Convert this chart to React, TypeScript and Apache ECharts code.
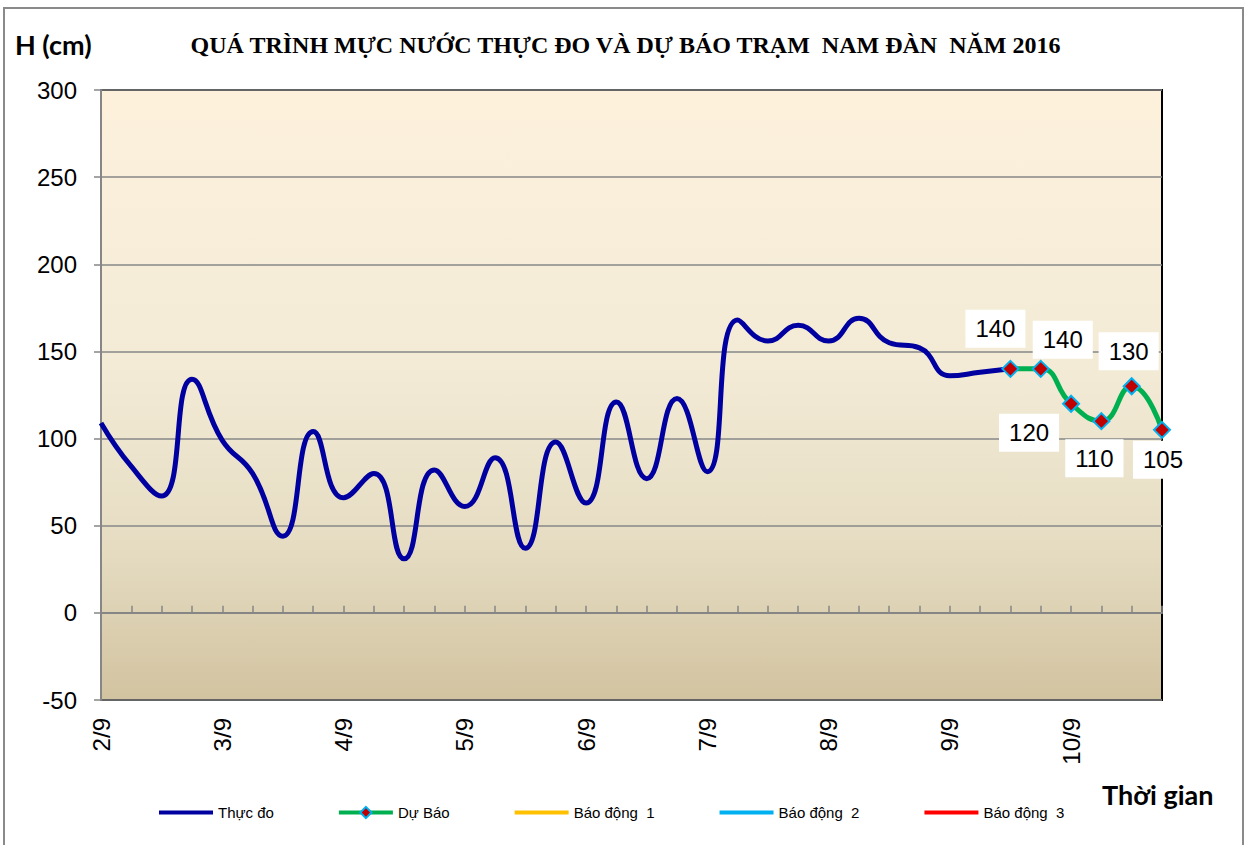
import React, { useEffect, useRef } from "react";
import * as echarts from "echarts";

const categories = [
  "2/9 1h", "2/9 7h", "2/9 13h", "2/9 19h",
  "3/9 1h", "3/9 7h", "3/9 13h", "3/9 19h",
  "4/9 1h", "4/9 7h", "4/9 13h", "4/9 19h",
  "5/9 1h", "5/9 7h", "5/9 13h", "5/9 19h",
  "6/9 1h", "6/9 7h", "6/9 13h", "6/9 19h",
  "7/9 1h", "7/9 7h", "7/9 13h", "7/9 19h",
  "8/9 1h", "8/9 7h", "8/9 13h", "8/9 19h",
  "9/9 1h", "9/9 7h", "9/9 13h", "9/9 19h",
  "10/9 1h", "10/9 7h", "10/9 13h", "10/9 19h",
];

// Thực đo: observed, from index 0 to 30
const observed = [
  109, 84, 67, 134, 99, 80, 44, 104, 66, 80, 31, 82, 61, 89, 37, 98,
  63, 121, 77, 123, 81, 168, 156, 165, 156, 169, 155, 152, 136, 138, 140,
];

// Dự Báo: forecast, starting at index 30
const forecastStart = 30;
const forecast = [140, 140, 120, 110, 130, 105];

const seriesNames = ["Thực đo", "Dự Báo", "Báo động  1", "Báo động  2", "Báo động  3"];
const alarmColors = ["#ffc000", "#00b0f0", "#ff0000"];

const labelOffsets = [
  [-15, -40],
  [22, -29],
  [-42, 29],
  [-7, 37],
  [-3, -35],
  [1, 30],
];

export default function App() {
  const ref = useRef<HTMLDivElement>(null);

  useEffect(() => {
    if (!ref.current) return;
    const chart = echarts.init(ref.current, undefined, { renderer: "svg" });

    const forecastData: any[] = categories.map(() => "-");
    forecast.forEach((v, i) => {
      forecastData[forecastStart + i] = {
        value: v,
        label: {
          show: true,
          position: "inside",
          offset: labelOffsets[i],
        },
      };
    });

    const legendData = seriesNames.map((n, i) =>
      i === 1 ? { name: n } : { name: n, itemStyle: { opacity: 0, borderWidth: 0 } }
    );

    const option: any = {
      animation: false,
      backgroundColor: "#ffffff",
      title: {
        text: "QUÁ TRÌNH MỰC NƯỚC THỰC ĐO VÀ DỰ BÁO TRẠM  NAM ĐÀN  NĂM 2016",
        left: "center",
        top: 28,
        textStyle: {
          fontFamily: "Liberation Serif",
          fontWeight: "bold",
          fontSize: 24,
          color: "#000",
        },
      },
      legend: {
        data: legendData,
        left: 157,
        top: 805,
        padding: 0,
        itemWidth: 54,
        itemHeight: 14,
        itemGap: 63,
        lineStyle: { width: 4 },
        textStyle: {
          fontFamily: "Liberation Sans",
          fontSize: 15,
          color: "#000",
        },
      },
      grid: {
        left: 101,
        right: 89,
        top: 90,
        bottom: 145,
        show: true,
        backgroundColor: new echarts.graphic.LinearGradient(0, 0, 0, 1, [
          { offset: 0, color: "#fdf1dc" },
          { offset: 0.45, color: "#f3ebd6" },
          { offset: 0.75, color: "#e5dcc2" },
          { offset: 1, color: "#d2c3a0" },
        ]),
        borderColor: "#000",
        borderWidth: 2,
      },
      xAxis: {
        type: "category",
        data: categories,
        boundaryGap: false,
        axisLine: { lineStyle: { color: "#868686", width: 2 } },
        axisTick: {
          show: true,
          inside: true,
          length: 7,
          interval: 0,
          lineStyle: { color: "#868686", width: 1.5 },
        },
        axisLabel: {
          interval: 3,
          rotate: 90,
          margin: 18,
          fontSize: 24,
          fontFamily: "Liberation Sans",
          color: "#000",
          formatter: (v: string) => v.split(" ")[0],
        },
        splitLine: { show: false },
      },
      yAxis: {
        type: "value",
        min: -50,
        max: 300,
        interval: 50,
        axisLine: { show: true, lineStyle: { color: "#868686", width: 2 } },
        axisTick: { show: true, length: 7, lineStyle: { color: "#868686", width: 1.5 } },
        axisLabel: {
          margin: 24,
          fontSize: 24,
          fontFamily: "Liberation Sans",
          color: "#000",
        },
        splitLine: { lineStyle: { color: "#878787", width: 1.5 } },
      },
      graphic: [
        {
          type: "rect",
          shape: { x: 4, y: 8, width: 1239, height: 860 },
          style: { fill: "none", stroke: "#8a8a8a", lineWidth: 2 },
          silent: true,
        },
        {
          type: "text",
          left: 15,
          top: 31,
          style: {
            text: "H (cm)",
            font: "bold 27px Lato",
            fill: "#000",
          },
        },
        {
          type: "text",
          left: 1102,
          top: 781,
          style: {
            text: "Thời gian",
            font: "bold 27px Lato",
            fill: "#000",
          },
        },
      ],
      series: [
        {
          name: seriesNames[0],
          type: "line",
          data: observed,
          smooth: 0.5,
          symbol: "none",
          lineStyle: { color: "#0000a0", width: 5 },
          itemStyle: { color: "#0000a0" },
          z: 3,
        },
        {
          name: seriesNames[1],
          type: "line",
          data: forecastData,
          smooth: 0.5,
          symbol: "diamond",
          symbolSize: 16,
          showAllSymbol: true,
          lineStyle: { color: "#00b050", width: 5 },
          itemStyle: { color: "#c00000", borderColor: "#00b0f0", borderWidth: 2 },
          label: {
            show: true,
            backgroundColor: "#ffffff",
            padding: [7, 10],
            fontSize: 24,
            fontFamily: "Liberation Sans",
            color: "#000",
          },
          z: 4,
        },
        ...alarmColors.map((c, i) => ({
          name: seriesNames[2 + i],
          type: "line",
          data: [],
          symbol: "none",
          lineStyle: { color: c, width: 5 },
          itemStyle: { color: c },
        })),
      ],
    };

    chart.setOption(option);
    return () => chart.dispose();
  }, []);

  return (
    <div
      ref={ref}
      style={{ position: "fixed", left: 0, top: 0, width: 1251, height: 845 }}
    />
  );
}
